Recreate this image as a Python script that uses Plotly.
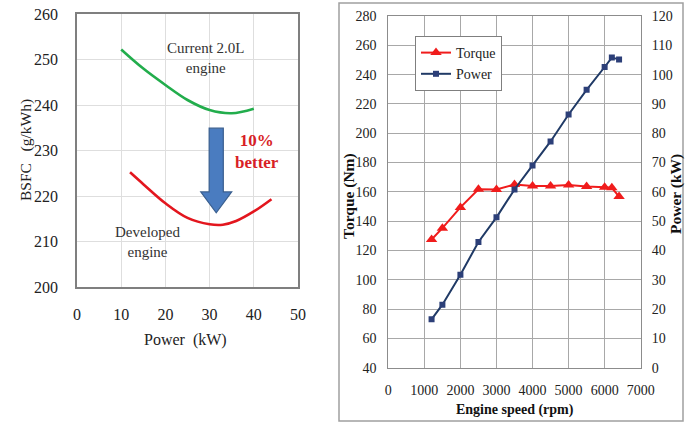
import plotly.graph_objects as go

# ---------------- data ----------------
# Left chart: BSFC vs power
current_power = [10, 15, 20, 25, 30, 35, 40]
current_bsfc = [252.2, 248.0, 244.4, 241.1, 238.9, 238.2, 239.2]
developed_power = [12, 15, 20, 25, 30, 33, 36, 40, 44]
developed_bsfc = [225.2, 222.6, 218.4, 215.2, 213.8, 213.7, 214.5, 216.6, 219.3]

# Block arrow (data units of left chart)
arrow_x_center = 31.5
arrow_shaft_half = 1.6
arrow_head_half = 3.5
arrow_top = 234.9
arrow_head_base = 220.9
arrow_tip = 216.3

# Right chart: torque and power vs engine speed
speed_rpm = [1200, 1500, 2000, 2500, 3000, 3500, 4000, 4500, 5000, 5500, 6000, 6200, 6400]
torque_nm = [127.5, 135.2, 149.4, 161.8, 161.6, 165.0, 164.0, 164.0, 164.7, 163.6, 163.2, 162.8, 156.8]
power_kw = [16.5, 21.5, 31.7, 42.9, 51.3, 60.8, 69.0, 77.2, 86.4, 94.8, 102.6, 105.8, 105.2]

FONT = "Liberation Serif"
W, H = 685, 424

fig = go.Figure()

# left chart curves
fig.add_trace(go.Scatter(x=current_power, y=current_bsfc, mode="lines",
                         line=dict(color="#22ad4c", width=2.6, shape="spline", smoothing=1.0),
                         xaxis="x", yaxis="y", showlegend=False, hoverinfo="skip"))
fig.add_trace(go.Scatter(x=developed_power, y=developed_bsfc, mode="lines",
                         line=dict(color="#e3161e", width=2.6, shape="spline", smoothing=1.0),
                         xaxis="x", yaxis="y", showlegend=False, hoverinfo="skip"))

# right chart
fig.add_trace(go.Scatter(x=speed_rpm, y=torque_nm, mode="lines+markers", name="Torque",
                         line=dict(color="#f01c1c", width=2),
                         marker=dict(symbol="triangle-up", size=10, color="#f01c1c"),
                         xaxis="x2", yaxis="y2"))
fig.add_trace(go.Scatter(x=speed_rpm, y=power_kw, mode="lines+markers", name="Power",
                         line=dict(color="#203a66", width=2),
                         marker=dict(symbol="square", size=6, color="#2c3f78"),
                         xaxis="x2", yaxis="y3"))


def px_x(p):
    return p / W


def px_y(p):
    return 1 - p / H


def axis(size, **kw):
    d = dict(showline=True, mirror=True, ticks="", zeroline=False, automargin=False,
             tickfont=dict(family=FONT, size=size, color="#222"))
    d.update(kw)
    return d


fig.update_layout(
    width=W, height=H,
    margin=dict(l=0, r=0, t=0, b=0, pad=0, autoexpand=False),
    paper_bgcolor="white", plot_bgcolor="white",
    font=dict(family=FONT, color="#222"),
    xaxis=axis(16, domain=[px_x(77), px_x(298)], range=[0, 50], dtick=10,
               gridcolor="#dedede", linecolor="#7f7f7f", linewidth=1.5,
               ticklabelstandoff=12, anchor="y"),
    yaxis=axis(16, domain=[px_y(287), px_y(14)], range=[200, 260], dtick=10,
               gridcolor="#dedede", linecolor="#7f7f7f", linewidth=1.5,
               ticklabelstandoff=14, anchor="x"),
    xaxis2=axis(14, domain=[px_x(388.3), px_x(640.7)], range=[0, 7000], dtick=1000,
                gridcolor="#a8a8a8", linecolor="#8c8c8c", linewidth=1,
                ticklabelstandoff=9, anchor="y2"),
    yaxis2=axis(14, domain=[px_y(367.7), px_y(16)], range=[40, 280], dtick=20,
                gridcolor="#a8a8a8", linecolor="#8c8c8c", linewidth=1,
                ticklabelstandoff=8, anchor="x2"),
    yaxis3=dict(range=[0, 120], dtick=10, overlaying="y2", side="right",
                anchor="x2", showgrid=False, showline=False, zeroline=False,
                ticklabelstandoff=10, automargin=False,
                tickfont=dict(family=FONT, size=14, color="#222")),
    legend=dict(x=px_x(415), y=px_y(36), xanchor="left", yanchor="top",
                bgcolor="white", bordercolor="#7f7f7f", borderwidth=1,
                font=dict(family=FONT, size=14, color="#222"),
                itemwidth=30, tracegroupgap=0),
    showlegend=True,
)

# block arrow
xc, sh, hh = arrow_x_center, arrow_shaft_half, arrow_head_half
arrow_path = (f"M {xc - sh},{arrow_top} L {xc + sh},{arrow_top} L {xc + sh},{arrow_head_base} "
              f"L {xc + hh},{arrow_head_base} L {xc},{arrow_tip} L {xc - hh},{arrow_head_base} "
              f"L {xc - sh},{arrow_head_base} Z")
fig.add_shape(type="path", path=arrow_path, xref="x", yref="y",
              fillcolor="#4a7cc0", line=dict(color="#3a5f8f", width=1.2))

# outer border for right chart
fig.add_shape(type="rect", xref="paper", yref="paper",
              x0=px_x(339), x1=px_x(683), y0=px_y(421), y1=px_y(3),
              line=dict(color="#a0a0a0", width=1.5), fillcolor="rgba(0,0,0,0)")


def note(x, y, text, size, color="#222", angle=0, xref="paper", yref="paper"):
    fig.add_annotation(x=x, y=y, xref=xref, yref=yref, text=text, showarrow=False,
                       xanchor="center", yanchor="middle", textangle=angle,
                       font=dict(family=FONT, size=size, color=color))


# text annotations on left chart
note(29, 250.3, "Current 2.0L<br>engine", 15, "#333", xref="x", yref="y")
note(40.7, 229.8, "<b>10%<br>better</b>", 17, "#d91f26", xref="x", yref="y")
note(16, 209.9, "Developed<br>engine", 15, "#333", xref="x", yref="y")

# axis titles
note(px_x(185), px_y(340), "Power\u00a0\u00a0(kW)", 16)
note(px_x(26), px_y(150), "BSFC\u00a0\u00a0\u00a0(g/kWh)", 15.5, angle=-90)
note(px_x(515), px_y(410), "<b>Engine speed (rpm)</b>", 14, "#111")
note(px_x(349), px_y(196), "<b>Torque (Nm)</b>", 15.5, "#111", angle=-90)
note(px_x(676), px_y(194), "<b>Power (kW)</b>", 15.5, "#111", angle=-90)

fig.write_html("out.html", config={"displayModeBar": False},
               post_script="document.body.style.margin='0';")
